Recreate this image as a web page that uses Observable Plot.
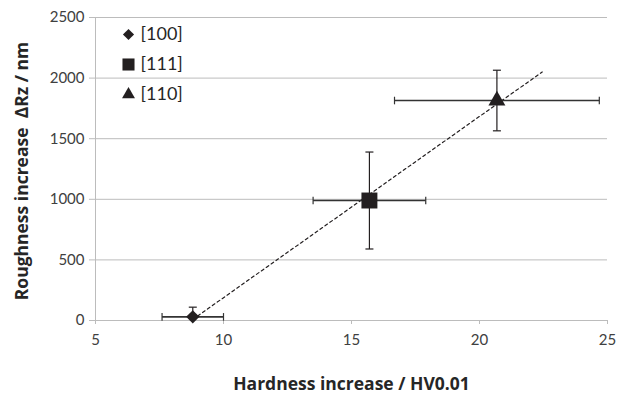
<!DOCTYPE html>
<html>
<head>
<meta charset="utf-8">
<script src="https://cdn.jsdelivr.net/npm/d3@7"></script>
<script src="https://cdn.jsdelivr.net/npm/@observablehq/plot@0.6"></script>
<style>
  html, body { margin: 0; padding: 0; background: #fff; }
  #chart { width: 617px; height: 394px; }
</style>
</head>
<body>
<div id="chart"></div>
<script>
// ---- data ----
const orientations = ["[100]", "[111]", "[110]"];
const hardness = [8.8, 15.7, 20.68];
const hardnessErr = [1.2, 2.2, 4.0];
const roughness = [30, 990, 1815];
const roughnessErr = [80, 400, 250];
const trendRange = [8.8, 22.45];
const xTicks = [5, 10, 15, 20, 25];
const yTicks = [0, 500, 1000, 1500, 2000, 2500];
const xTitle = "Hardness increase / HV0.01";
const yTitle = "Roughness increase  \u0394Rz / nm";

const rows = orientations.map((o, i) => ({
  o, x: hardness[i], ex: hardnessErr[i], y: roughness[i], ey: roughnessErr[i]
}));

// linear regression from the data
const mx = d3.mean(hardness), my = d3.mean(roughness);
const slope = d3.sum(hardness, (x, i) => (x - mx) * (roughness[i] - my)) /
              d3.sum(hardness, x => (x - mx) ** 2);
const intercept = my - slope * mx;
const trend = trendRange.map(x => ({x, y: intercept + slope * x}));

const symbolNames = ["diamond2", "square", "triangle"];
const markR = [6.0, 9, 6.3];
const legendR = [5, 6.8, 4.8];

const capV = {draw(ctx, size) { const h = Math.sqrt(size / Math.PI); ctx.moveTo(0, -h); ctx.lineTo(0, h); }};
const capH = {draw(ctx, size) { const h = Math.sqrt(size / Math.PI); ctx.moveTo(-h, 0); ctx.lineTo(h, 0); }};

const ink = "#231f20";
const grid = "#bcbcbc";
const titleFont = "'Open Sans', sans-serif";

const marks = [
  Plot.gridY(yTicks, {stroke: grid, strokeOpacity: 1, strokeWidth: 1}),
  Plot.ruleX([5], {stroke: grid, strokeWidth: 1}),
  Plot.axisY(yTicks, {tickSize: 6, tickPadding: 5, stroke: grid, fill: "#404040", fontSize: 15, label: null, tickFormat: d3.format("d")}),
  Plot.axisX(xTicks, {tickSize: 4, tickPadding: 10, stroke: grid, fill: "#404040", fontSize: 15, label: null, tickFormat: d3.format("d")}),
  Plot.line(trend, {x: "x", y: "y", stroke: ink, strokeWidth: 1.2, strokeDasharray: "3,3"}),
  // horizontal error bars
  Plot.link(rows, {x1: d => d.x - d.ex, x2: d => d.x + d.ex, y1: "y", y2: "y", stroke: "#333", strokeWidth: 1.6}),
  Plot.dot(rows, {x: d => d.x - d.ex, y: "y", symbol: capV, r: 3.8, stroke: "#333", fill: "none", strokeWidth: 1.2}),
  Plot.dot(rows, {x: d => d.x + d.ex, y: "y", symbol: capV, r: 3.8, stroke: "#333", fill: "none", strokeWidth: 1.2}),
  // vertical error bars (clipped at the plot frame like the original)
  Plot.link(rows, {x1: "x", x2: "x", y1: d => d.y - d.ey, y2: d => d.y + d.ey, stroke: ink, strokeWidth: 1.2, clip: true}),
  Plot.dot(rows, {x: "x", y: d => d.y - d.ey, symbol: capH, r: 4, stroke: ink, fill: "none", strokeWidth: 1.2, clip: true}),
  Plot.dot(rows, {x: "x", y: d => d.y + d.ey, symbol: capH, r: 4, stroke: ink, fill: "none", strokeWidth: 1.2, clip: true}),
  // titles
  Plot.text([xTitle], {text: d => d, frameAnchor: "bottom", lineAnchor: "middle", textAnchor: "middle", dx: 0, dy: 63.5, fontWeight: "bold", fontSize: 17.5, fill: "#262626", fontFamily: titleFont}),
  Plot.text([yTitle], {text: d => d, frameAnchor: "left", lineAnchor: "middle", textAnchor: "middle", rotate: -90, dx: -73, dy: 2, fontWeight: "bold", fontSize: 17.5, fill: "#262626", fontFamily: titleFont})
];

rows.forEach((d, i) => {
  marks.push(Plot.dot([d], {x: "x", y: "y", symbol: symbolNames[i], r: markR[i], fill: ink, stroke: "none"}));
  const dy = 17 + i * 30;
  marks.push(Plot.dot([d.o], {frameAnchor: "top-left", dx: 33, dy, symbol: symbolNames[i], r: legendR[i], fill: ink, stroke: "none"}));
  marks.push(Plot.text([d.o], {text: t => t, frameAnchor: "top-left", lineAnchor: "middle", dx: 45, dy, textAnchor: "start", fontSize: 18, fill: "#262626"}));
});

const chart = Plot.plot({
  width: 617,
  height: 394,
  marginLeft: 95,
  marginRight: 10,
  marginTop: 17,
  marginBottom: 74,
  style: {fontFamily: "Lato, 'Open Sans', sans-serif", fontSize: "15px", background: "#fff", overflow: "visible"},
  x: {domain: [5, 25]},
  y: {domain: [0, 2500]},
  marks
});
document.getElementById("chart").appendChild(chart);
</script>
</body>
</html>
